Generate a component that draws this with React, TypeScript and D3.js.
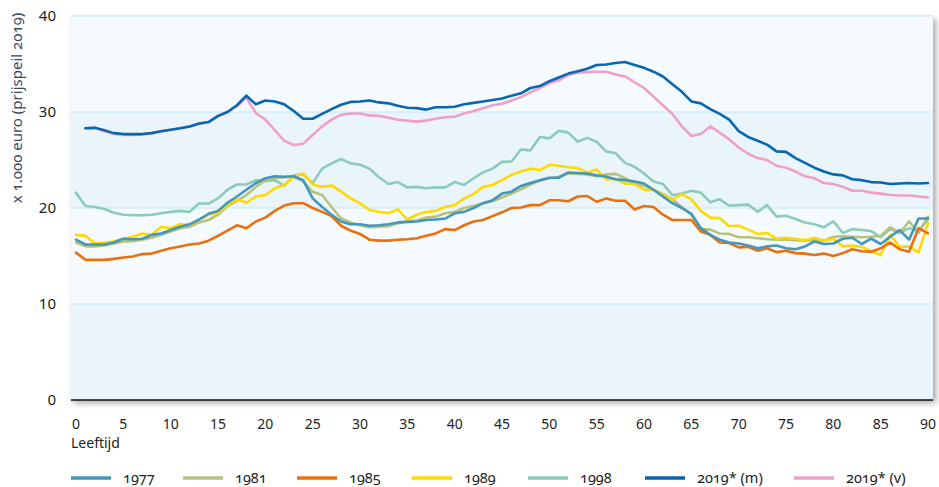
import React from "react";
import * as d3 from "d3";

const ages0: number[] = d3.range(0, 91);
const ages1: number[] = d3.range(1, 91);

const s1977 = [16.7,16.2,16.2,16.2,16.4,16.8,16.75,16.8,17.2,17.35,17.7,18.05,18.3,18.8,19.4,19.7,20.55,21.2,21.9,22.6,23.1,23.3,23.25,23.3,22.9,21.0,20.1,19.3,18.6,18.3,18.3,18.15,18.2,18.3,18.5,18.55,18.6,18.75,18.8,18.9,19.45,19.6,20.0,20.5,20.8,21.5,21.7,22.3,22.6,22.9,23.15,23.15,23.7,23.65,23.6,23.4,23.25,23.0,22.9,22.75,22.55,21.9,21.2,20.5,20.0,19.4,17.9,17.2,16.7,16.4,16.3,16.1,15.8,16.0,16.1,15.8,15.7,16.0,16.5,16.25,16.3,16.8,16.9,16.25,16.8,16.25,17.0,17.7,16.7,18.9,18.9];
const s1981 = [16.4,16.0,16.0,16.1,16.3,16.5,16.55,16.7,16.9,17.2,17.55,17.9,18.05,18.5,18.75,19.3,20.2,20.75,21.35,22.2,22.9,23.1,23.2,23.25,22.75,21.7,21.35,20.1,18.9,18.5,18.2,18.0,18.05,18.1,18.4,18.6,18.7,19.0,19.1,19.45,19.6,20.0,20.2,20.5,20.7,21.1,21.5,21.95,22.45,22.85,23.1,23.25,23.6,23.55,23.5,23.3,23.5,23.55,23.1,22.55,22.3,21.9,21.45,20.9,20.1,19.3,17.8,17.75,17.35,17.3,16.95,16.95,16.85,16.75,16.7,16.7,16.65,16.6,16.65,16.6,17.0,17.05,17.0,16.95,17.0,17.1,18.0,17.4,18.6,17.4,19.1];
const s1985 = [15.35,14.6,14.6,14.6,14.7,14.85,14.95,15.2,15.25,15.55,15.8,16.0,16.2,16.3,16.6,17.1,17.65,18.2,17.9,18.6,19.0,19.7,20.25,20.5,20.5,20.0,19.6,19.15,18.15,17.65,17.3,16.7,16.6,16.6,16.7,16.75,16.85,17.1,17.35,17.8,17.7,18.2,18.6,18.75,19.15,19.55,20.0,20.05,20.3,20.3,20.8,20.8,20.7,21.2,21.25,20.65,21.0,20.75,20.75,19.85,20.2,20.1,19.3,18.75,18.75,18.75,17.55,17.2,16.4,16.35,15.9,15.95,15.55,15.8,15.4,15.55,15.3,15.25,15.1,15.25,15.0,15.3,15.7,15.5,15.45,15.8,16.4,15.7,15.45,17.9,17.35];
const s1989 = [17.2,17.1,16.3,16.4,16.5,16.8,17.0,17.35,17.2,18.05,17.9,18.3,18.25,18.8,19.3,19.5,20.3,20.9,20.55,21.2,21.35,22.05,22.4,23.25,23.6,22.45,22.2,22.35,21.7,21.0,20.5,19.8,19.6,19.45,19.85,18.8,19.3,19.6,19.7,20.1,20.3,21.0,21.45,22.2,22.4,22.9,23.45,23.8,24.1,23.95,24.5,24.4,24.25,24.15,23.7,24.0,23.0,23.0,22.55,22.5,21.9,21.9,21.35,20.9,21.45,20.9,19.7,19.0,18.95,18.1,18.15,17.75,17.3,17.4,16.8,16.9,16.8,16.65,16.9,16.6,16.8,16.0,16.1,15.95,15.5,15.1,17.2,15.95,16.0,15.35,18.4];
const s1998 = [21.6,20.2,20.1,19.9,19.5,19.3,19.25,19.25,19.3,19.45,19.6,19.7,19.6,20.5,20.45,21.0,21.9,22.45,22.45,22.9,22.8,22.9,22.3,23.4,23.5,22.6,24.1,24.65,25.1,24.65,24.5,24.1,23.2,22.5,22.7,22.15,22.2,22.05,22.15,22.15,22.7,22.4,23.1,23.7,24.1,24.8,24.85,26.1,26.0,27.4,27.25,28.05,27.85,26.9,27.3,26.9,25.9,25.7,24.7,24.3,23.6,22.75,22.5,21.35,21.5,21.8,21.6,20.6,20.9,20.25,20.3,20.35,19.6,20.3,19.1,19.2,18.85,18.5,18.3,18.0,18.6,17.4,17.8,17.7,17.6,16.95,17.8,17.4,17.9,17.6,18.8];
const s2019m = [28.3,28.35,28.1,27.8,27.7,27.7,27.7,27.8,28.0,28.15,28.3,28.5,28.8,28.95,29.6,30.0,30.7,31.7,30.8,31.2,31.1,30.8,30.1,29.3,29.3,29.8,30.3,30.75,31.05,31.1,31.2,31.0,30.9,30.65,30.45,30.4,30.25,30.5,30.5,30.55,30.8,30.95,31.1,31.25,31.4,31.7,31.95,32.5,32.7,33.2,33.6,34.0,34.25,34.5,34.9,34.95,35.1,35.2,34.9,34.6,34.2,33.7,32.9,32.1,31.1,30.9,30.3,29.8,29.2,28.0,27.4,27.0,26.6,25.9,25.85,25.2,24.7,24.2,23.8,23.5,23.4,23.0,22.9,22.7,22.65,22.5,22.55,22.6,22.55,22.6];
const s2019v = [28.3,28.35,28.0,27.7,27.6,27.6,27.65,27.8,28.0,28.15,28.3,28.5,28.75,28.95,29.55,30.0,30.6,31.5,29.9,29.2,28.1,27.0,26.55,26.7,27.6,28.5,29.2,29.7,29.85,29.85,29.65,29.6,29.4,29.2,29.1,29.0,29.1,29.3,29.45,29.5,29.85,30.1,30.4,30.7,30.85,31.2,31.55,32.05,32.5,33.0,33.3,33.85,34.1,34.15,34.2,34.2,33.9,33.7,33.1,32.5,31.6,30.7,29.8,28.5,27.5,27.7,28.5,27.85,27.15,26.3,25.65,25.2,25.0,24.4,24.2,23.8,23.3,23.1,22.6,22.5,22.2,21.8,21.8,21.6,21.5,21.35,21.3,21.3,21.2,21.1];

const seriesNames = ["1977", "1981", "1985", "1989", "1998", "2019* (m)", "2019* (v)"];
const seriesColors = ["#4397bd", "#b8c27c", "#ea700e", "#ffd900", "#8ccbbb", "#0867b0", "#f09fc6"];
const seriesValues = [s1977, s1981, s1985, s1989, s1998, s2019m, s2019v];
const seriesAges = [ages0, ages0, ages0, ages0, ages0, ages1, ages1];
const drawOrder = [4, 1, 3, 2, 0, 6, 5];

const yTicks = [0, 10, 20, 30, 40];
const xTicks = d3.range(0, 91, 5);
const yTitle = "x 1.000 euro (prijspeil 2019)";
const xTitle = "Leeftijd";

const W = 939;
const H = 487;
const plotL = 71, plotR = 933, plotT = 16, plotB = 400;

const FONT = "'Noto Sans', 'Open Sans', sans-serif";

export default function App() {
  const x = d3.scaleLinear().domain([0, 90]).range([76, 928]);
  const y = d3.scaleLinear().domain([0, 40]).range([plotB, plotT]);
  const line = d3
    .line<[number, number]>()
    .x((d) => x(d[0]))
    .y((d) => y(d[1]));

  const bands = [0, 10, 20, 30];
  const legendX = [71, 183, 297, 412, 528, 645, 794];

  return (
    <svg
      width={W}
      height={H}
      style={{ position: "absolute", left: 0, top: 0, background: "#fff" }}
    >
      <defs>
        <filter id="shadow" x="-5%" y="-5%" width="110%" height="115%">
          <feDropShadow dx="3" dy="3" stdDeviation="3" floodColor="#000" floodOpacity="0.35" />
        </filter>
        <clipPath id="clip">
          <rect x={plotL} y={plotT} width={plotR - plotL} height={plotB - plotT} />
        </clipPath>
      </defs>
      <rect
        x={plotL}
        y={plotT}
        width={plotR - plotL}
        height={plotB - plotT}
        fill="#f4fafd"
        filter="url(#shadow)"
      />
      {bands.map((b, i) => (
        <rect
          key={"band" + b}
          x={plotL}
          y={y(b + 10)}
          width={plotR - plotL}
          height={y(b) - y(b + 10)}
          fill={i % 2 === 0 ? "#eaf5fb" : "#f4fafd"}
        />
      ))}
      {yTicks.filter((t) => t > 0).map((t) => (
        <line
          key={"g" + t}
          x1={plotL}
          x2={plotR}
          y1={y(t)}
          y2={y(t)}
          stroke="#c6e5f4"
          strokeWidth={1}
        />
      ))}
      <line x1={plotL} x2={plotR} y1={y(0)} y2={y(0)} stroke="#111" strokeWidth={1.5} />
      <g clipPath="url(#clip)">
        {drawOrder.map((i) => {
          const pts: [number, number][] = seriesAges[i].map((a, k) => [a, seriesValues[i][k]]);
          return (
            <path
              key={seriesNames[i]}
              d={line(pts) || ""}
              fill="none"
              stroke={seriesColors[i]}
              strokeWidth={2.6}
              strokeLinejoin="round"
              strokeLinecap="round"
            />
          );
        })}
      </g>
      {yTicks.map((t) => (
        <text
          key={"yt" + t}
          x={56}
          y={y(t)}
          dy="0.35em"
          textAnchor="end"
          fontFamily={FONT}
          fontSize={15}
          fill="#222"
        >
          {t}
        </text>
      ))}
      {xTicks.map((t) => (
        <text
          key={"xt" + t}
          x={x(t)}
          y={429}
          textAnchor="middle"
          fontFamily={FONT}
          fontSize={14}
          fill="#222"
        >
          {t}
        </text>
      ))}
      <text x={71} y={448} fontFamily={FONT} fontSize={14} fill="#222">
        {xTitle}
      </text>
      <text
        transform={`translate(22,108) rotate(-90)`}
        textAnchor="middle"
        fontFamily={FONT}
        fontSize={15}
        fill="#3b4b5c"
        style={{ fontVariantNumeric: "oldstyle-nums" }}
      >
        {yTitle}
      </text>
      {seriesNames.map((n, i) => (
        <g key={"lg" + n}>
          <line
            x1={legendX[i]}
            x2={legendX[i] + 40}
            y1={478}
            y2={478}
            stroke={seriesColors[i]}
            strokeWidth={3.5}
          />
          <text
            x={legendX[i] + 52}
            y={483}
            fontFamily={FONT}
            fontSize={14.5}
            fill="#222"
            style={{ fontVariantNumeric: "oldstyle-nums" }}
          >
            {n}
          </text>
        </g>
      ))}
    </svg>
  );
}
